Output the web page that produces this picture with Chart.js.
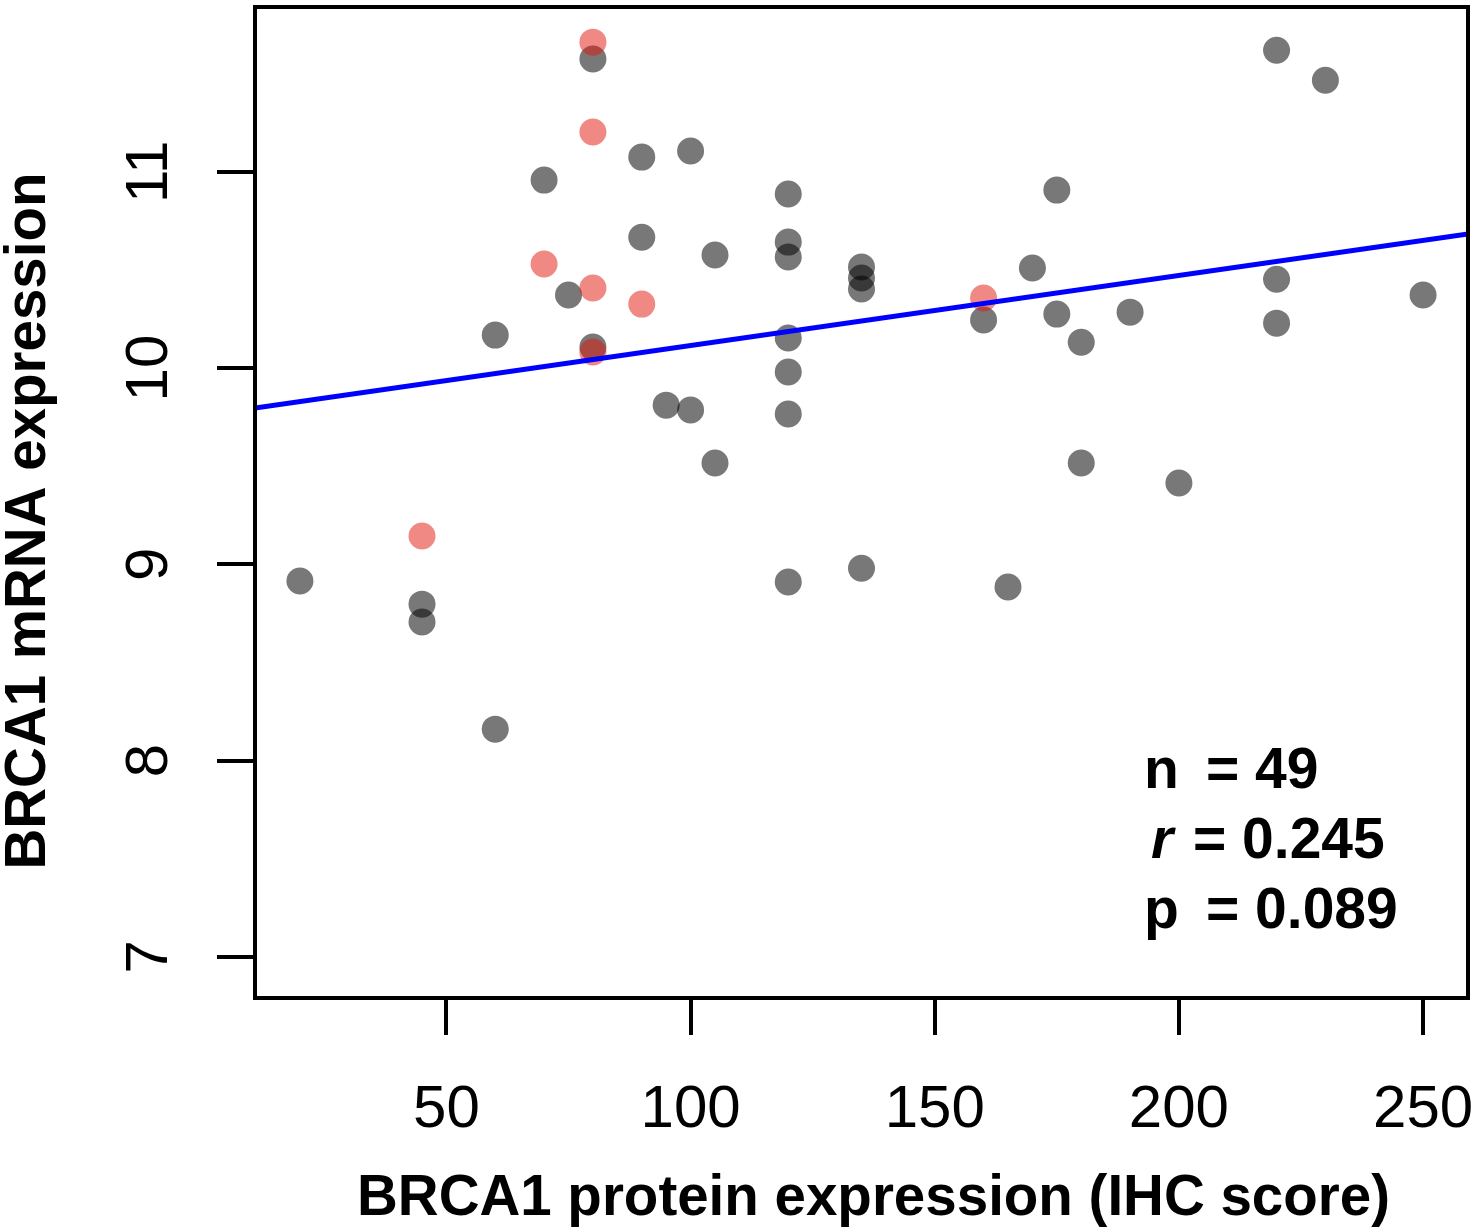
<!DOCTYPE html>
<html>
<head>
<meta charset="utf-8">
<script src="https://cdn.jsdelivr.net/npm/chart.js@4.4.1/dist/chart.umd.min.js"></script>
<style>
  html, body { margin: 0; padding: 0; background: #fff; }
  #wrap { width: 1476px; height: 1230px; position: relative; }
</style>
</head>
<body>
<div id="wrap"><canvas id="c"></canvas></div>
<script>
// ---- data ----
const grayX = [20,45,45,60,60,70,75,80,80,90,90,95,100,100,105,105,120,120,120,120,120,120,120,135,135,135,135,160,165,170,175,175,180,180,190,200,220,220,220,230,250];
const grayY = [8.915,8.797,8.706,8.16,10.168,10.958,10.372,11.575,10.107,11.075,10.667,9.811,11.106,9.786,10.576,9.516,10.887,10.642,10.566,10.153,9.98,9.766,8.91,10.515,10.459,10.403,8.98,10.245,8.884,10.51,10.907,10.275,10.132,9.516,10.285,9.414,11.62,10.453,10.229,11.467,10.372];
const redX = [80,80,70,80,90,80,45,160];
const redY = [11.661,11.203,10.53,10.408,10.326,10.082,9.144,10.357];
const fitX = [10.8, 259.2];
const fitY = [9.796, 10.683];
const xTicks = [50,100,150,200,250];
const yTicks = [7,8,9,10,11];
const xTitle = 'BRCA1 protein expression (IHC score)';
const yTitle = 'BRCA1 mRNA expression';
const statLabels = ['n', 'r', 'p'];
const statValues = ['= 49', '= 0.245', '= 0.089'];

const toPts = (xs, ys) => xs.map((x, i) => ({x: x, y: ys[i]}));
const FONT = '"Liberation Sans", Arial, Helvetica, sans-serif';

const decor = {
  id: 'decor',
  afterDraw(chart) {
    const ctx = chart.ctx, a = chart.chartArea;
    const ys = chart.scales.y;
    ctx.save();
    // box
    ctx.strokeStyle = '#000';
    ctx.lineWidth = 4;
    ctx.strokeRect(a.left, a.top, a.right - a.left, a.bottom - a.top);
    // rotated y tick labels
    ctx.fillStyle = '#000';
    ctx.font = '60px ' + FONT;
    ctx.textAlign = 'center';
    ctx.textBaseline = 'alphabetic';
    yTicks.forEach(v => {
      const py = ys.getPixelForValue(v);
      ctx.save();
      ctx.translate(a.left - 88, py);
      ctx.rotate(-Math.PI / 2);
      ctx.fillText(String(v), 0, 0);
      ctx.restore();
    });
    // y title
    ctx.font = 'bold 56.5px ' + FONT;
    ctx.save();
    ctx.translate(45, 521);
    ctx.rotate(-Math.PI / 2);
    ctx.fillText(yTitle, 0, 0);
    ctx.restore();
    // x title
    ctx.fillText(xTitle, 873.5, 1215);
    // stats annotation
    ctx.textAlign = 'left';
    const base = [788, 858, 928];
    const lx = [1144, 1151, 1144];
    const vx = [1206, 1193, 1206];
    statLabels.forEach((s, i) => {
      ctx.font = (i === 1 ? 'italic bold 57px ' : 'bold 57px ') + FONT;
      ctx.fillText(s, lx[i], base[i]);
      ctx.font = 'bold 57px ' + FONT;
      ctx.fillText(statValues[i], vx[i], base[i]);
    });
    ctx.restore();
  }
};

new Chart(document.getElementById('c'), {
  type: 'scatter',
  data: {
    datasets: [
      {
        label: 'fit',
        data: toPts(fitX, fitY),
        showLine: true,
        borderColor: '#0000ff',
        borderWidth: 5,
        pointRadius: 0,
        fill: false
      },
      {
        label: 'red',
        data: toPts(redX, redY),
        backgroundColor: 'rgba(225,20,10,0.5)',
        borderWidth: 0,
        pointRadius: 13.5,
        pointHoverRadius: 13.5
      },
      {
        label: 'gray',
        data: toPts(grayX, grayY),
        backgroundColor: 'rgba(0,0,0,0.53)',
        borderWidth: 0,
        pointRadius: 13.5,
        pointHoverRadius: 13.5
      }
    ]
  },
  options: {
    responsive: true,
    maintainAspectRatio: false,
    animation: false,
    layout: { autoPadding: false, padding: { left: 0, top: 7, right: 8, bottom: 0 } },
    plugins: { legend: { display: false }, tooltip: { enabled: false } },
    scales: {
      x: {
        type: 'linear',
        position: 'bottom',
        min: 10.8,
        max: 259.2,
        afterBuildTicks: s => { s.ticks = xTicks.map(v => ({value: v})); },
        afterFit: s => { s.height = 232; s.paddingLeft = 0; s.paddingRight = 0; s.paddingTop = 0; s.paddingBottom = 0; },
        border: { display: false },
        grid: { drawOnChartArea: false, drawTicks: true, tickLength: 37, tickWidth: 4, tickColor: '#000', color: '#000', lineWidth: 4 },
        ticks: { font: { family: FONT, size: 60, lineHeight: 1.2 }, color: '#000', padding: 39, maxRotation: 0, autoSkip: false, callback: v => String(v) }
      },
      y: {
        type: 'linear',
        position: 'left',
        min: 6.79,
        max: 11.84,
        afterBuildTicks: s => { s.ticks = yTicks.map(v => ({value: v})); },
        afterFit: s => { s.width = 255; s.paddingLeft = 0; s.paddingRight = 0; s.paddingTop = 0; s.paddingBottom = 0; },
        border: { display: false },
        grid: { drawOnChartArea: false, drawTicks: true, tickLength: 38, tickWidth: 4, tickColor: '#000', color: '#000', lineWidth: 4 },
        ticks: { display: false }
      }
    }
  },
  plugins: [decor]
});
</script>
</body>
</html>
